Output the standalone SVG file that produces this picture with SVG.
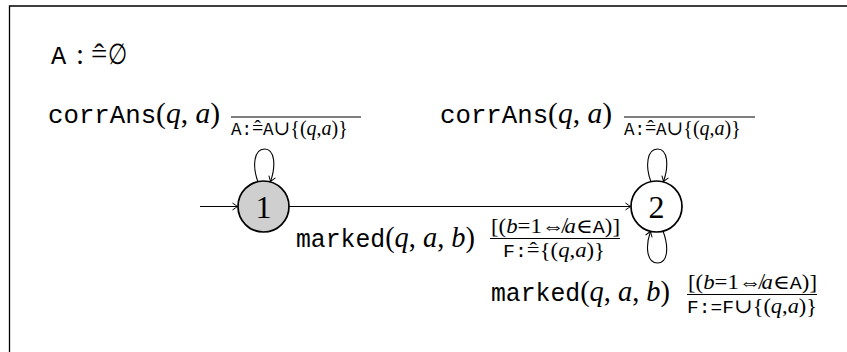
<svg xmlns="http://www.w3.org/2000/svg" width="847" height="352" viewBox="0 0 847 352">
<style>
.tt{font-family:"Liberation Mono","DejaVu Sans Mono",monospace}
.m{font-family:"Liberation Serif","DejaVu Serif",serif}
.i{font-style:italic}
.big{font-size:29px}
.bigtt{font-size:25.3px}
.sm{font-size:20px}
.smtt{font-size:17.5px}
.node{stroke:#000;stroke-width:1.7}
.edge{fill:none;stroke:#000;stroke-width:1.1}
.bar{stroke:#000;stroke-width:1.1}
.num{font-size:32px}
</style>
<defs>
<marker id="arr" viewBox="-6 -5 8 10" markerWidth="8" markerHeight="10" refX="0" refY="0" orient="auto" markerUnits="userSpaceOnUse">
<path d="M -5 -3.5 Q -1.2 -0.8 0 0 Q -1.2 0.8 -5 3.5" fill="none" stroke="#000" stroke-width="1"/>
</marker>
</defs>
<rect width="847" height="352" fill="#fff"/>
<path d="M 9.5 352 V 6 H 847" fill="none" stroke="#000" stroke-width="1.3"/>

<g id="init-label">
<text class="tt bigtt" x="51" y="64">A</text>
<text class="m big" x="76" y="64">:</text>
<text class="m big" x="91" y="64">=<tspan dx="-0.45em">ˆ</tspan></text>
<text class="m big" x="108" y="64" textLength="19" lengthAdjust="spacingAndGlyphs">∅</text>
</g>

<g id="connectors">
<line class="edge" x1="200" y1="206.5" x2="237.5" y2="206.5" marker-end="url(#arr)"/>
<line class="edge" x1="289" y1="206.5" x2="630.5" y2="206.5" marker-end="url(#arr)"/>
<path class="edge" d="M 258 182 C 252 166, 254 149, 264.5 149 C 275 149, 276 166, 270.5 181.5" marker-end="url(#arr)"/>
<path class="edge" d="M 651 182 C 645 166, 647 149, 657.5 149 C 668 149, 669 166, 663.5 181.5" marker-end="url(#arr)"/>
<path class="edge" d="M 663 231 C 669 247, 668 263, 657.5 263 C 647 263, 645 247, 650.5 231.5" marker-end="url(#arr)"/>

<text class="m big" x="48" y="123" textLength="172" lengthAdjust="spacingAndGlyphs"><tspan class="tt bigtt">corrAns</tspan>(<tspan class="i">q</tspan>, <tspan class="i">a</tspan>)</text>
<line class="bar" x1="231" y1="117" x2="361" y2="117"/>
<text class="m sm" x="231" y="135"><tspan class="tt smtt">A:</tspan>=<tspan dx="-0.45em">ˆ</tspan><tspan dx="0.117em" class="tt smtt">A</tspan>∪{(<tspan class="i">q</tspan>,<tspan class="i">a</tspan>)}</text>

<text class="m big" x="440" y="123" textLength="172" lengthAdjust="spacingAndGlyphs"><tspan class="tt bigtt">corrAns</tspan>(<tspan class="i">q</tspan>, <tspan class="i">a</tspan>)</text>
<line class="bar" x1="624" y1="117" x2="755" y2="117"/>
<text class="m sm" x="624" y="135"><tspan class="tt smtt">A:</tspan>=<tspan dx="-0.45em">ˆ</tspan><tspan dx="0.117em" class="tt smtt">A</tspan>∪{(<tspan class="i">q</tspan>,<tspan class="i">a</tspan>)}</text>

<text class="m big" x="296" y="247" textLength="179" lengthAdjust="spacingAndGlyphs"><tspan class="tt bigtt">marked</tspan>(<tspan class="i">q</tspan>, <tspan class="i">a</tspan>, <tspan class="i">b</tspan>)</text>
<text class="m sm" x="491" y="233" textLength="129" lengthAdjust="spacingAndGlyphs">[(<tspan class="i">b</tspan>=1⇎<tspan class="i">a</tspan>∈<tspan class="tt smtt">A</tspan>)]</text>
<line class="bar" x1="490" y1="238.5" x2="620" y2="238.5"/>
<text class="m sm" x="503" y="257" textLength="102" lengthAdjust="spacingAndGlyphs"><tspan class="tt smtt">F:</tspan>=<tspan dx="-0.45em">ˆ</tspan><tspan dx="0.117em">{(</tspan><tspan class="i">q</tspan>,<tspan class="i">a</tspan>)}</text>

<text class="m big" x="491" y="301" textLength="179" lengthAdjust="spacingAndGlyphs"><tspan class="tt bigtt">marked</tspan>(<tspan class="i">q</tspan>, <tspan class="i">a</tspan>, <tspan class="i">b</tspan>)</text>
<text class="m sm" x="688" y="289" textLength="129" lengthAdjust="spacingAndGlyphs">[(<tspan class="i">b</tspan>=1⇎<tspan class="i">a</tspan>∈<tspan class="tt smtt">A</tspan>)]</text>
<line class="bar" x1="687" y1="294.5" x2="817" y2="294.5"/>
<text class="m sm" x="687" y="313" textLength="130" lengthAdjust="spacingAndGlyphs"><tspan class="tt smtt">F:=F</tspan>∪{(<tspan class="i">q</tspan>,<tspan class="i">a</tspan>)}</text>
</g>

<g id="node1">
<circle class="node" cx="263.5" cy="206.5" r="25.5" fill="#cfcfcf"/>
<text class="m num" x="263.5" y="217.5" text-anchor="middle">1</text>
</g>
<g id="node2">
<circle class="node" cx="656.5" cy="206.5" r="25.5" fill="#fff"/>
<text class="m num" x="656.5" y="217.5" text-anchor="middle">2</text>
</g>
</svg>
